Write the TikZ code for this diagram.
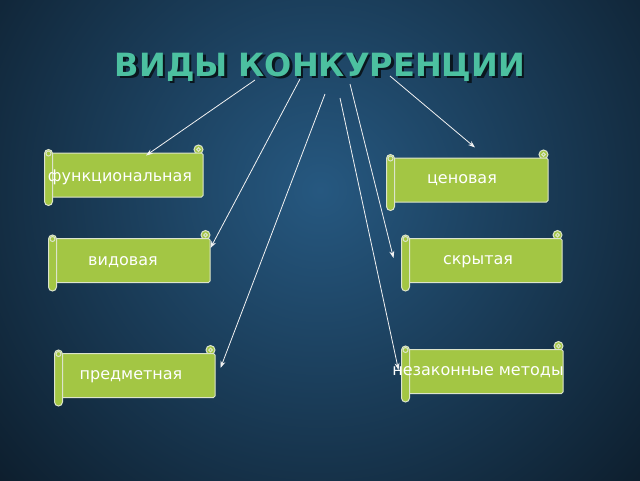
\documentclass[tikz,border=0pt]{standalone}
\usepackage{fontspec}
\setmainfont{DejaVu Sans}
\usetikzlibrary{arrows.meta}

\definecolor{bginner}{RGB}{38,88,128}
\definecolor{bgouter}{RGB}{5,11,18}
\definecolor{scrollgreen}{RGB}{163,198,68}
\definecolor{scrollrim}{RGB}{220,228,204}
\definecolor{titleteal}{RGB}{76,192,160}
\definecolor{titleshade}{RGB}{10,22,30}

\pgfdeclarelayer{back}
\pgfsetlayers{back,main}

\tikzset{
  scrollbox/.style={draw=scrollrim, fill=scrollgreen, line width=1pt,
    rounded corners=1.5pt, inner sep=0pt, minimum height=44pt},
  scrolltext/.style={text=white, inner sep=0pt, font=\fontsize{16}{19}\selectfont},
  roll/.style={draw=scrollrim, fill=scrollgreen, line width=1pt},
  link/.style={draw=white!90!gray, line width=0.8pt, -{Stealth[length=7pt,width=5pt]}}
}

% text with a dark drop shadow
\newcommand{\shadowed}[1]{%
  \makebox[0pt][l]{\hspace{2.5pt}\raisebox{-2.5pt}{\textcolor{titleshade}{#1}}}#1}

% the curled ends of a scroll
\newcommand{\rolls}[1]{%
  \begin{pgfonlayer}{back}
  \draw[roll] ([xshift=-5pt,yshift=3pt]#1.north east) circle (4.5pt);
  \end{pgfonlayer}
  \draw[roll] ([xshift=-5pt,yshift=3pt]#1.north east) circle (1.8pt);
  \draw[roll,rounded corners=4pt] ([yshift=3pt]#1.north west) rectangle ([xshift=8pt,yshift=-8pt]#1.south west);
  \draw[roll] ([xshift=4pt,yshift=-1pt]#1.north west) circle (2.5pt);
}

\begin{document}
\begin{tikzpicture}[x=1pt,y=-1pt]
\useasboundingbox (0,0) rectangle (640,480);

\begin{pgfonlayer}{back}
\begin{scope}
\clip (0,0) rectangle (640,480);
\shade[inner color=bginner, outer color=bgouter] (320,190) circle (580);
\end{scope}
\end{pgfonlayer}

\node[text=titleteal, font=\fontsize{32}{38}\bfseries] (title) at (320,68) {\shadowed{ВИДЫ КОНКУРЕНЦИИ}};

\node[scrollbox, minimum width=158pt] (func) at (124,175) {};
\node[scrollbox, minimum width=161pt] (price) at (467.5,180) {};
\node[scrollbox, minimum width=161pt] (kind) at (129.5,260.5) {};
\node[scrollbox, minimum width=160pt] (hidden) at (482,260.5) {};
\node[scrollbox, minimum width=160pt] (subject) at (135,375.5) {};
\node[scrollbox, minimum width=161pt] (illegal) at (482.5,371.5) {};

\rolls{func}
\rolls{price}
\rolls{kind}
\rolls{hidden}
\rolls{subject}
\rolls{illegal}

\node[scrolltext] (functext) at (120,177) {функциональная};
\node[scrolltext] (pricetext) at (462,180) {ценовая};
\node[scrolltext] (kindtext) at (123,262) {видовая};
\node[scrolltext] (hiddentext) at (478,262) {скрытая};
\node[scrolltext] (subjecttext) at (131,377) {предметная};
\node[scrolltext] (illegaltext) at (478,372) {незаконные методы};

\coordinate (t1) at (255,80);
\coordinate (t2) at (300,79);
\coordinate (t3) at (325,94);
\coordinate (t4) at (340,98);
\coordinate (t5) at (350,84);
\coordinate (t6) at (390,76);

\draw[link] (t1) -- ([xshift=22pt,yshift=-3pt]func.north);
\draw[link] (t2) -- ([yshift=12.5pt]kind.east);
\draw[link] (t3) -- ([xshift=5pt,yshift=7.5pt]subject.east);
\draw[link] (t4) -- ([xshift=-3pt,yshift=1.5pt]illegal.west);
\draw[link] (t5) -- ([xshift=-8pt,yshift=2.5pt]hidden.west);
\draw[link] (t6) -- ([xshift=7.5pt,yshift=10pt]price.north);
\end{tikzpicture}
\end{document}
